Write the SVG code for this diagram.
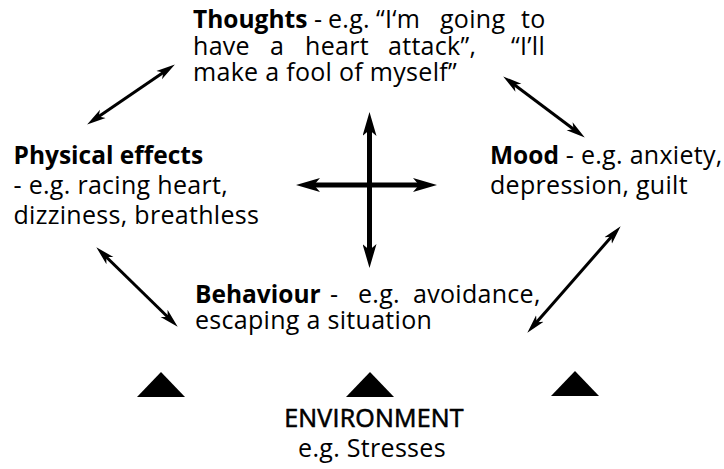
<svg xmlns="http://www.w3.org/2000/svg" width="724" height="469" viewBox="0 0 724 469">
<style>
text{font-family:"Open Sans","Noto Sans","Liberation Sans",sans-serif;font-size:25px;fill:#000;letter-spacing:0.3px}
.b{font-weight:bold;font-size:24.5px;letter-spacing:0}
.env{stroke:#000;stroke-width:0.6px;letter-spacing:0.2px}
.arr{stroke:#000;stroke-width:3;fill:none;marker-start:url(#ah);marker-end:url(#ah)}
.crs{stroke:#000;stroke-width:5;fill:none;marker-start:url(#ahb);marker-end:url(#ahb)}
.tri{fill:#000}
</style>
<defs>
<marker id="ah" markerUnits="userSpaceOnUse" viewBox="0 0 20 12" markerWidth="20" markerHeight="12" refX="8" refY="6" orient="auto-start-reverse">
<path d="M0,1 L19,6 L0,11 L5,6 z" fill="#000"/>
</marker>
<marker id="ahb" markerUnits="userSpaceOnUse" viewBox="0 0 26 14" markerWidth="26" markerHeight="14" refX="10" refY="7" orient="auto-start-reverse">
<path d="M0,0 L24,7 L0,14 L6,7 z" fill="#000"/>
</marker>
</defs>
<rect width="724" height="469" fill="#fff"/>

<g id="thoughts">
<text y="28"><tspan x="193" class="b">Thoughts</tspan><tspan x="314">-</tspan><tspan x="328">e.g.</tspan><tspan x="376">“I‘m</tspan><tspan x="440">going</tspan><tspan x="521">to</tspan></text>
<text y="54.5"><tspan x="193">have</tspan><tspan x="270">a</tspan><tspan x="305">heart</tspan><tspan x="388">attack”,</tspan><tspan x="511">“I’ll</tspan></text>
<text x="193" y="81" letter-spacing="0.8">make a fool of myself”</text>
</g>

<g id="physical">
<text x="13.5" y="164" class="b">Physical effects</text>
<text x="13.5" y="194">- e.g. racing heart,</text>
<text x="13.5" y="224">dizziness, breathless</text>
</g>

<g id="mood">
<text y="164"><tspan x="490" class="b">Mood</tspan><tspan> - e.g. anxiety,</tspan></text>
<text x="490" y="194">depression, guilt</text>
</g>

<g id="behaviour">
<text y="303"><tspan x="195" class="b">Behaviour</tspan><tspan x="330">-</tspan><tspan x="358">e.g.</tspan><tspan x="413">avoidance,</tspan></text>
<text x="195" y="329">escaping a situation</text>
</g>

<g id="environment">
<polygon class="tri" points="161,372 137,397 185,397"/>
<polygon class="tri" points="370,372 346,397 394,397"/>
<polygon class="tri" points="575,371 551,396 599,396"/>
<text x="374" y="427" class="env" text-anchor="middle">ENVIRONMENT</text>
<text x="372" y="457" text-anchor="middle">e.g. Stresses</text>
</g>

<g id="connectors">
<line class="arr" x1="96.2" y1="118.3" x2="165.8" y2="70.7"/>
<line class="arr" x1="512" y1="83" x2="576" y2="131"/>
<line class="arr" x1="104.2" y1="255" x2="169.8" y2="319"/>
<line class="arr" x1="613.4" y1="234.5" x2="534.6" y2="324.5"/>
<line class="crs" x1="369.5" y1="126" x2="369.5" y2="254"/>
<line class="crs" x1="310" y1="185" x2="423" y2="185"/>
</g>
</svg>
